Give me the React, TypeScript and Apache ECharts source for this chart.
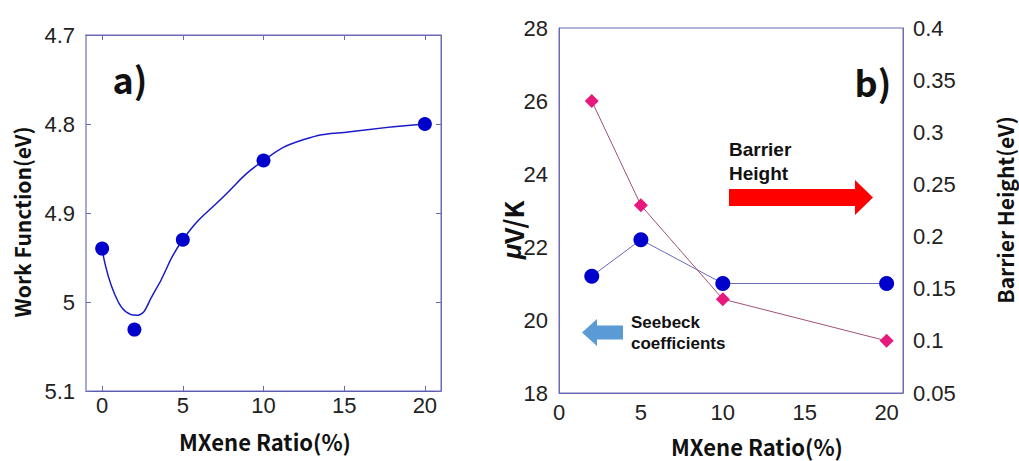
import React, { useEffect, useRef } from "react";
import * as echarts from "echarts";

// Panel a) work function
const wfX = [0, 2, 5, 10, 20];
const wfY = [4.94, 5.031, 4.93, 4.841, 4.8];
// fitted smooth curve
const fitX = [0, 1, 2.1, 3.2, 5, 7.5, 10, 12.5, 15.5, 20];
const fitY = [4.94, 5.0, 5.015, 4.99, 4.93, 4.882, 4.841, 4.8175, 4.8083, 4.8];

// Panel b)
const ratioX = [2, 5, 10, 20];
const seebeck = [21.2, 22.2, 21.0, 21.0];
const barrier = [0.33, 0.23, 0.14, 0.1];

const xTicks = [0, 5, 10, 15, 20];

const TICK_FONT = "'Liberation Sans', Arial, sans-serif";
const NAME_FONT = "'Noto Sans CJK JP', 'Noto Sans', sans-serif";
const BOX = "#6a6ab8";

export default function App() {
  const ref = useRef<HTMLDivElement>(null);
  useEffect(() => {
    if (!ref.current) return;
    const chart = echarts.init(ref.current, undefined, { renderer: "svg" });
    const tickLabel = { fontSize: 22, color: "#222", fontFamily: TICK_FONT };
    const text = (t: string, x: number, y: number, size: number, weight: any, rot = 0, align = "center", font = NAME_FONT) => ({
      type: "text",
      x,
      y,
      rotation: rot,
      style: {
        text: t,
        fontSize: size,
        fontWeight: weight,
        fontFamily: font,
        fill: "#111",
        align,
        verticalAlign: "middle",
      },
    });
    const option: any = {
      animation: false,
      backgroundColor: "#fff",
      grid: [
        { left: 86, top: 35, width: 355, height: 356, show: true, borderColor: BOX, borderWidth: 1, backgroundColor: "transparent" },
        { left: 559, top: 28, width: 344, height: 365, show: true, borderColor: BOX, borderWidth: 1, backgroundColor: "transparent" },
      ],
      xAxis: [
        {
          gridIndex: 0, type: "value", min: -1, max: 21, position: "bottom",
          axisLine: { show: true, onZero: false, lineStyle: { color: "#5a5ab0", width: 1 } },
          axisTick: { show: true, inside: true, length: 5, customValues: xTicks, lineStyle: { color: BOX } },
          axisLabel: { ...tickLabel, margin: 3, customValues: xTicks },
          splitLine: { show: false },
        },
        {
          gridIndex: 0, type: "value", min: -1, max: 21, position: "top",
          axisLine: { show: true, onZero: false, lineStyle: { color: BOX, width: 1 } },
          axisTick: { show: true, inside: true, length: 5, customValues: xTicks, lineStyle: { color: BOX } },
          axisLabel: { show: false },
          splitLine: { show: false },
        },
        {
          gridIndex: 1, type: "value", min: 0, max: 21, position: "bottom",
          axisLine: { show: true, onZero: false, lineStyle: { color: BOX, width: 1 } },
          axisTick: { show: false },
          axisLabel: { ...tickLabel, margin: 8, customValues: xTicks },
          splitLine: { show: false },
        },
      ],
      yAxis: [
        {
          gridIndex: 0, type: "value", inverse: true, min: 4.7, max: 5.1, interval: 0.1, position: "left",
          axisLine: { show: true, onZero: false, lineStyle: { color: "#a8a8d0", width: 2 } },
          axisTick: { show: true, inside: true, length: 5, lineStyle: { color: BOX } },
          axisLabel: { ...tickLabel, margin: 11, padding: [0, 0, 6, 0] },
          splitLine: { show: false },
        },
        {
          gridIndex: 0, type: "value", inverse: true, min: 4.7, max: 5.1, interval: 0.1, position: "right",
          axisLine: { show: true, onZero: false, lineStyle: { color: BOX, width: 1 } },
          axisTick: { show: true, inside: true, length: 5, lineStyle: { color: BOX } },
          axisLabel: { show: false },
          splitLine: { show: false },
        },
        {
          gridIndex: 1, type: "value", min: 18, max: 28, interval: 2, position: "left",
          axisLine: { show: true, onZero: false, lineStyle: { color: BOX, width: 1 } },
          axisTick: { show: false },
          axisLabel: { ...tickLabel, margin: 11, padding: [0, 0, 8, 0] },
          splitLine: { show: false },
        },
        {
          gridIndex: 1, type: "value", min: 0.05, max: 0.4, interval: 0.05, position: "right",
          axisLine: { show: true, onZero: false, lineStyle: { color: BOX, width: 1 } },
          axisTick: { show: false },
          axisLabel: { ...tickLabel, margin: 10, padding: [0, 0, 8, 0] },
          splitLine: { show: false },
        },
      ],
      series: [
        {
          type: "line", xAxisIndex: 0, yAxisIndex: 0, smooth: 0.5, showSymbol: false, symbol: "none",
          data: fitX.map((x, i) => [x, fitY[i]]),
          lineStyle: { color: "#1a1acc", width: 1.5 },
          z: 2,
        },
        {
          type: "scatter", xAxisIndex: 0, yAxisIndex: 0, symbol: "circle", symbolSize: 14,
          data: wfX.map((x, i) => [x, wfY[i]]),
          itemStyle: { color: "#0000cc", opacity: 1 },
          z: 3,
        },
        {
          type: "line", xAxisIndex: 2, yAxisIndex: 2, symbol: "circle", symbolSize: 15,
          data: ratioX.map((x, i) => [x, seebeck[i]]),
          itemStyle: { color: "#0000cc", opacity: 1 },
          lineStyle: { color: "#6a6ab8", width: 1 },
          z: 2,
        },
        {
          type: "line", xAxisIndex: 2, yAxisIndex: 3, symbol: "diamond", symbolSize: 14,
          data: ratioX.map((x, i) => [x, barrier[i]]),
          itemStyle: { color: "#e8197d", opacity: 1 },
          lineStyle: { color: "#a0507a", width: 1 },
          z: 3,
        },
      ],
      graphic: [
        text("Work Function(eV)", 22, 222, 21, "bold", Math.PI / 2),
        text("MXene Ratio(%)", 265, 441, 22, "bold"),
        text("MXene Ratio(%)", 757, 446, 22, "bold"),
        text("Barrier Height(eV)", 1005, 210, 21, "bold", Math.PI / 2),
        {
          type: "text", x: 512, y: 230, rotation: Math.PI / 2,
          style: {
            text: "{i|μ}V/K",
            fontSize: 26, fontFamily: NAME_FONT, fill: "#111", fontWeight: "bold",
            align: "center", verticalAlign: "middle",
            rich: {
              i: { fontStyle: "italic", fontSize: 26, fontWeight: "bold", fontFamily: TICK_FONT, fill: "#111" },
            },
          },
        },
        text("a)", 130, 78, 36, "bold"),
        text("b)", 873, 81, 36, "bold"),
        text("Barrier", 729, 149, 19, "bold", 0, "left", TICK_FONT),
        text("Height", 729, 173, 19, "bold", 0, "left", TICK_FONT),
        {
          type: "polygon",
          shape: { points: [[729, 189], [855, 189], [855, 180], [873, 197.5], [855, 215], [855, 206], [729, 206]] },
          style: { fill: "#ff0000" },
        },
        {
          type: "polygon",
          shape: { points: [[582, 332.5], [597, 319], [597, 325.5], [623, 325.5], [623, 339.5], [597, 339.5], [597, 346]] },
          style: { fill: "#5b9bd5" },
        },
        text("Seebeck", 631, 322, 17, "bold", 0, "left", TICK_FONT),
        text("coefficients", 631, 343, 17, "bold", 0, "left", TICK_FONT),
      ],
    };
    chart.setOption(option);
    return () => chart.dispose();
  }, []);
  return <div ref={ref} style={{ position: "absolute", left: 0, top: 0, width: 1019, height: 461 }} />;
}
